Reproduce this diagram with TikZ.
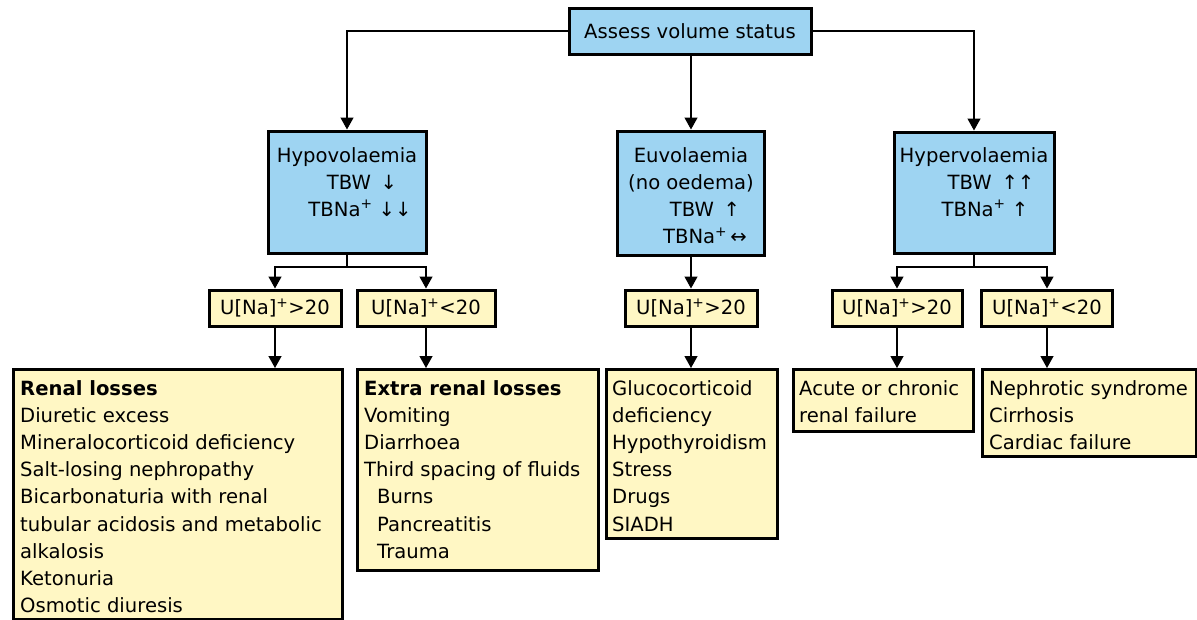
\documentclass[tikz,border=0pt]{standalone}
\usepackage{fontspec}
\setmainfont{DejaVu Sans}
\usetikzlibrary{arrows.meta, positioning}

\definecolor{volblue}{RGB}{158,212,242}
\definecolor{listyellow}{RGB}{255,247,196}

\tikzset{
    bluebox/.style={draw, line width=3pt, fill=volblue},
    yellowbox/.style={draw, line width=3pt, fill=listyellow},
    boxtext/.style={inner sep=0pt, font=\fontsize{19.6pt}{27.2pt}\selectfont},
    conn/.style={line width=1.3pt},
    arr/.style={conn, -{Triangle[width=13pt,length=12pt]}}
}

\begin{document}
\begin{tikzpicture}[x=1pt, y=-1pt]
    \useasboundingbox (0,0) rectangle (1197,619);
    \clip (0,0) rectangle (1197,619);

    \node[bluebox, boxtext, minimum width=242pt, minimum height=46pt] (assess) at (690,31) {Assess volume status};

    \node[bluebox, minimum width=158pt, minimum height=122pt] (hypo) at (347,192) {};
    \node[boxtext, align=center, anchor=north] (hypotxt) at (347,147) {Hypovolaemia\\ \hspace*{30pt}TBW\enspace ↓\\ \hspace*{26pt}TBNa\textsuperscript{+} ↓↓};

    \node[bluebox, minimum width=147pt, minimum height=124pt] (euvol) at (691,193) {};
    \node[boxtext, align=center, anchor=north] (euvoltxt) at (691,147) {Euvolaemia\\(no oedema)\\ \hspace*{28pt}TBW\enspace ↑\\ \hspace*{28pt}TBNa\textsuperscript{+}\,↔};

    \node[bluebox, minimum width=160pt, minimum height=121pt] (hyper) at (974,192.5) {};
    \node[boxtext, align=center, anchor=north] (hypertxt) at (974,147) {Hypervolaemia\\ \hspace*{34pt}TBW\enspace ↑↑\\ \hspace*{22pt}TBNa\textsuperscript{+} ↑};

    \node[yellowbox, boxtext, minimum width=132pt, minimum height=36pt] (hypoA) at (275,308) {U[Na]\textsuperscript{+}>20};
    \node[yellowbox, boxtext, minimum width=138pt, minimum height=36pt] (hypoB) at (426,308) {U[Na]\textsuperscript{+}<20};
    \node[yellowbox, boxtext, minimum width=132pt, minimum height=36pt] (euA) at (691,308) {U[Na]\textsuperscript{+}>20};
    \node[yellowbox, boxtext, minimum width=130pt, minimum height=36pt] (hyperA) at (897,308) {U[Na]\textsuperscript{+}>20};
    \node[yellowbox, boxtext, minimum width=131pt, minimum height=36pt] (hyperB) at (1047,308) {U[Na]\textsuperscript{+}<20};

    \node[yellowbox, minimum width=329pt, minimum height=250pt, anchor=north west] (renal) at (12,368) {};
    \node[boxtext, align=left, anchor=north west] (renaltxt) at ([shift={(8,12)}]renal.north west) {\textbf{Renal losses}\\Diuretic excess\\Mineralocorticoid deficiency\\Salt-losing nephropathy\\Bicarbonaturia with renal\\tubular acidosis and metabolic\\alkalosis\\Ketonuria\\Osmotic diuresis};

    \node[yellowbox, minimum width=241pt, minimum height=201pt, anchor=north west] (extra) at (356,368) {};
    \node[boxtext, align=left, anchor=north west] (extratxt) at ([shift={(8,12)}]extra.north west) {\textbf{Extra renal losses}\\Vomiting\\Diarrhoea\\Third spacing of fluids\\ \hspace*{13pt}Burns\\ \hspace*{13pt}Pancreatitis\\ \hspace*{13pt}Trauma};

    \node[yellowbox, minimum width=171pt, minimum height=169pt, anchor=north west] (eulist) at (605,368) {};
    \node[boxtext, align=left, anchor=north west] (eulisttxt) at ([shift={(7,12)}]eulist.north west) {Glucocorticoid\\deficiency\\Hypothyroidism\\Stress\\Drugs\\SIADH};

    \node[yellowbox, minimum width=180pt, minimum height=62pt, anchor=north west] (acute) at (792,368) {};
    \node[boxtext, align=left, anchor=north west] (acutetxt) at ([shift={(7,12)}]acute.north west) {Acute or chronic\\renal failure};

    \node[yellowbox, minimum width=214pt, minimum height=87pt, anchor=north west] (nephro) at (981,368) {};
    \node[boxtext, align=left, anchor=north west] (nephrotxt) at ([shift={(8,12)}]nephro.north west) {Nephrotic syndrome\\Cirrhosis\\Cardiac failure};

    \coordinate (hyposplit) at (347,267);
    \coordinate (hypersplit) at (974,267);

    \draw[arr] (assess.west) -| (hypo.north);
    \draw[arr] (euvol.north |- assess.south) -- (euvol.north);
    \draw[arr] (assess.east) -| (hyper.north);

    \draw[conn] (hypo.south) -- (hyposplit);
    \draw[arr] (hyposplit) -| (hypoA.north);
    \draw[arr] (hyposplit) -| (hypoB.north);
    \draw[arr] (euvol.south) -- (euA.north);
    \draw[conn] (hyper.south) -- (hypersplit);
    \draw[arr] (hypersplit) -| (hyperA.north);
    \draw[arr] (hypersplit) -| (hyperB.north);

    \draw[arr] (hypoA.south) -- (hypoA.south |- renal.north);
    \draw[arr] (hypoB.south) -- (hypoB.south |- extra.north);
    \draw[arr] (euA.south) -- (euA.south |- eulist.north);
    \draw[arr] (hyperA.south) -- (hyperA.south |- acute.north);
    \draw[arr] (hyperB.south) -- (hyperB.south |- nephro.north);
\end{tikzpicture}
\end{document}
